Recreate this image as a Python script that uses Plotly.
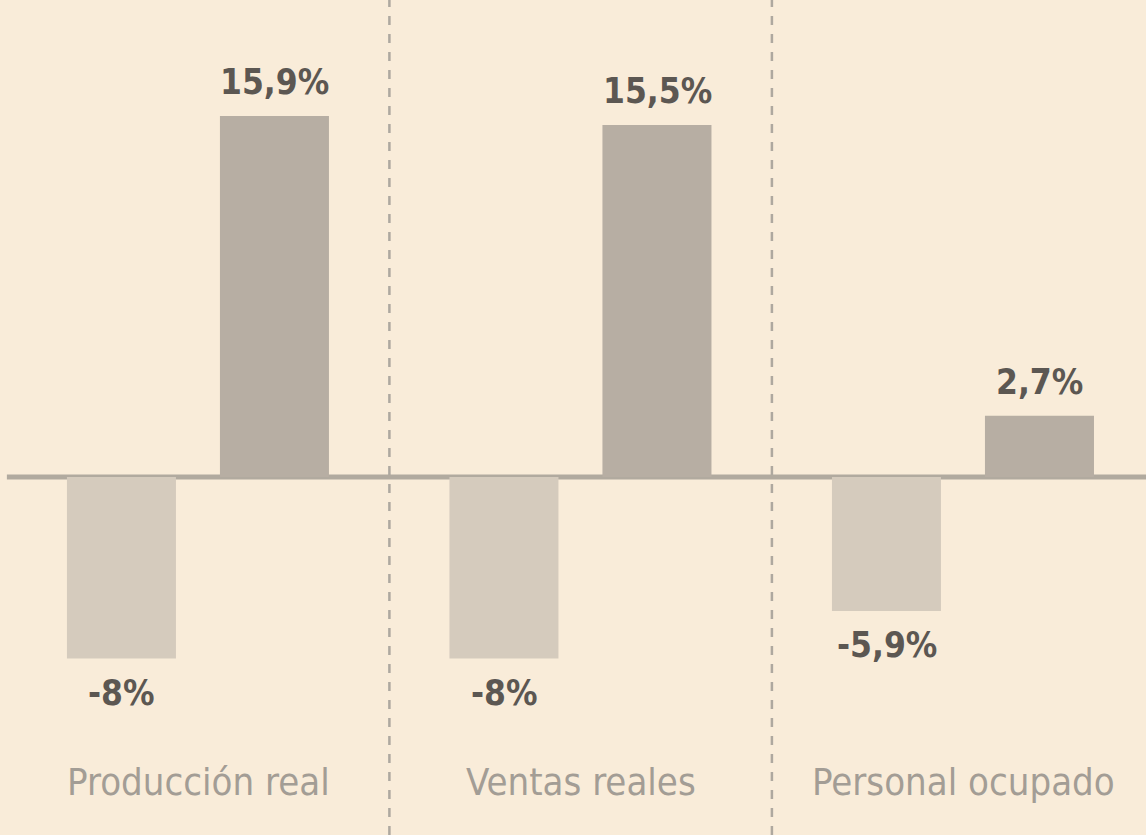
import plotly.graph_objects as go

categories = ["Producción real", "Ventas reales", "Personal ocupado"]
neg_values = [-8.0, -8.0, -5.9]
pos_values = [15.9, 15.5, 2.7]
neg_labels = ["-8%", "-8%", "-5,9%"]
pos_labels = ["15,9%", "15,5%", "2,7%"]

BG = "#f9ecd9"
NEG_COLOR = "#d5cbbd"
POS_COLOR = "#b7aea3"
LINE_COLOR = "#b1aa9f"
TEXT_DARK = "#5c5752"
TEXT_CAT = "#a39d95"
FONT = "DejaVu Sans Condensed, Liberation Sans Narrow, sans-serif"

xpos = list(range(len(categories)))

fig = go.Figure()
fig.add_trace(go.Bar(x=xpos, y=neg_values, width=0.285, offset=-0.343,
                     marker=dict(color=NEG_COLOR, line=dict(width=0)), hoverinfo="skip"))
fig.add_trace(go.Bar(x=xpos, y=pos_values, width=0.285, offset=0.057,
                     marker=dict(color=POS_COLOR, line=dict(width=0)), hoverinfo="skip"))

annotations = []
for i in xpos:
    annotations.append(dict(x=i + 0.2, y=pos_values[i], text=pos_labels[i], showarrow=False,
                            yshift=34, yanchor="middle", xanchor="center",
                            font=dict(family=FONT, size=35, color=TEXT_DARK, weight="bold")))
    annotations.append(dict(x=i - 0.2, y=neg_values[i], text=neg_labels[i], showarrow=False,
                            yshift=-34, yanchor="middle", xanchor="center",
                            font=dict(family=FONT, size=35, color=TEXT_DARK, weight="bold")))
    annotations.append(dict(x=i, y=-13.45, text=categories[i], showarrow=False,
                            yanchor="middle", xanchor="center",
                            font=dict(family=FONT, size=38, color=TEXT_CAT)))

shapes = [
    dict(type="line", xref="x", yref="y", x0=-0.5, x1=2.6, y0=0, y1=0,
         line=dict(color=LINE_COLOR, width=5), layer="below"),
]
for sep in [0.5, 1.5]:
    shapes.append(dict(type="line", xref="x", yref="paper", x0=sep, x1=sep, y0=0, y1=1,
                       line=dict(color="#aea89f", width=2.5, dash="dash")))

fig.update_layout(
    width=1146, height=835,
    margin=dict(l=0, r=0, t=0, b=0),
    paper_bgcolor=BG, plot_bgcolor=BG,
    showlegend=False,
    barmode="overlay",
    xaxis=dict(range=[-0.518, 2.478], visible=False, fixedrange=True),
    yaxis=dict(range=[-15.77, 21.01], visible=False, fixedrange=True, zeroline=False),
    annotations=annotations,
    shapes=shapes,
)

fig.write_html("out.html", config={"displayModeBar": False},
               post_script="document.body.style.margin='0';document.body.style.background='" + BG + "';")
